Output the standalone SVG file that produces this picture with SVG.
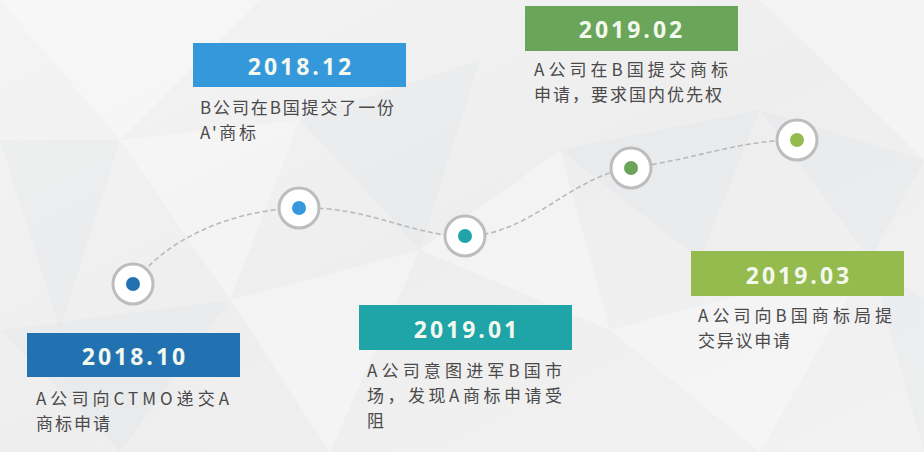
<svg xmlns="http://www.w3.org/2000/svg" width="924" height="452" viewBox="0 0 924 452">
<style>
.date{font-family:"Open Sans","DejaVu Sans",sans-serif;font-weight:700;font-size:23px;letter-spacing:3px;fill:#f3f9ee;text-anchor:middle}
.desc{font-family:"Noto Sans CJK SC","Noto Sans",sans-serif;font-size:17px;fill:#4a4a4a}
.ring{fill:#ffffff;stroke:#bdbdbf;stroke-width:3}
.link{fill:none;stroke:#b9b9bb;stroke-width:1.6;stroke-dasharray:5 3}
.facet-l{fill:#ffffff;opacity:0.3}
.facet-d{fill:#dcdde0;opacity:0.22}
</style>
<defs>
<linearGradient id="bg" x1="0" y1="0" x2="1" y2="1">
<stop offset="0" stop-color="#f4f4f5"/>
<stop offset="0.5" stop-color="#eeeeef"/>
<stop offset="1" stop-color="#f2f2f3"/>
</linearGradient>
</defs>
<g id="background">
<rect width="924" height="452" fill="url(#bg)"/>
<polygon class="facet-l" points="0,0 260,0 120,140"/>
<polygon class="facet-d" points="0,140 120,140 60,330"/>
<polygon class="facet-l" points="120,140 300,120 230,300"/>
<polygon class="facet-d" points="300,120 480,60 420,250"/>
<polygon class="facet-l" points="420,250 560,150 610,330"/>
<polygon class="facet-d" points="560,150 760,110 700,260"/>
<polygon class="facet-l" points="760,0 924,0 924,160"/>
<polygon class="facet-d" points="760,110 924,160 870,260"/>
<polygon class="facet-l" points="230,300 420,250 330,452"/>
<polygon class="facet-d" points="0,330 230,300 120,452"/>
<polygon class="facet-l" points="610,330 870,260 760,452"/>
<polygon class="facet-d" points="870,260 924,300 924,452"/>
</g>
<g id="connectors">
<path class="link" d="M133,284 C165,240 230,210 299,208 C370,206 410,236 465,236 C530,236 570,176 631,168 C700,158 740,140 797,140"/>
</g>
<g id="node-2018-10">
<circle class="ring" cx="133" cy="284" r="20"/>
<circle cx="133" cy="284" r="7" fill="#2272b1"/>
<rect x="27" y="333" width="213" height="44" fill="#2272b1"/>
<text class="date" x="135" y="365">2018.10</text>
<text class="desc" x="36" y="405" textLength="193" lengthAdjust="spacing">A公司向CTMO递交A</text>
<text class="desc" x="36" y="430" textLength="74" lengthAdjust="spacing">商标申请</text>
</g>
<g id="node-2018-12">
<circle class="ring" cx="299" cy="208" r="20"/>
<circle cx="299" cy="208" r="7" fill="#3498db"/>
<rect x="193" y="43" width="213" height="44" fill="#3498db"/>
<text class="date" x="301" y="75">2018.12</text>
<text class="desc" x="200" y="114" textLength="194" lengthAdjust="spacing">B公司在B国提交了一份</text>
<text class="desc" x="200" y="139" textLength="56" lengthAdjust="spacing">A'商标</text>
</g>
<g id="node-2019-01">
<circle class="ring" cx="465" cy="236" r="20"/>
<circle cx="465" cy="236" r="7" fill="#1fa4a8"/>
<rect x="359" y="305" width="213" height="45" fill="#1fa4a8"/>
<text class="date" x="467" y="338">2019.01</text>
<text class="desc" x="367" y="377" textLength="195" lengthAdjust="spacing">A公司意图进军B国市</text>
<text class="desc" x="367" y="402" textLength="195" lengthAdjust="spacing">场，发现A商标申请受</text>
<text class="desc" x="367" y="427">阻</text>
</g>
<g id="node-2019-02">
<circle class="ring" cx="631" cy="168" r="20"/>
<circle cx="631" cy="168" r="7" fill="#6aa55a"/>
<rect x="525" y="6" width="213" height="45" fill="#6aa55a"/>
<text class="date" x="632" y="38">2019.02</text>
<text class="desc" x="534" y="76" textLength="194" lengthAdjust="spacing">A公司在B国提交商标</text>
<text class="desc" x="534" y="101" textLength="188" lengthAdjust="spacing">申请，要求国内优先权</text>
</g>
<g id="node-2019-03">
<circle class="ring" cx="797" cy="140" r="20"/>
<circle cx="797" cy="140" r="7" fill="#95ba4d"/>
<rect x="691" y="251" width="213" height="45" fill="#95ba4d"/>
<text class="date" x="799" y="284">2019.03</text>
<text class="desc" x="698" y="322" textLength="194" lengthAdjust="spacing">A公司向B国商标局提</text>
<text class="desc" x="698" y="347" textLength="92" lengthAdjust="spacing">交异议申请</text>
</g>
</svg>
